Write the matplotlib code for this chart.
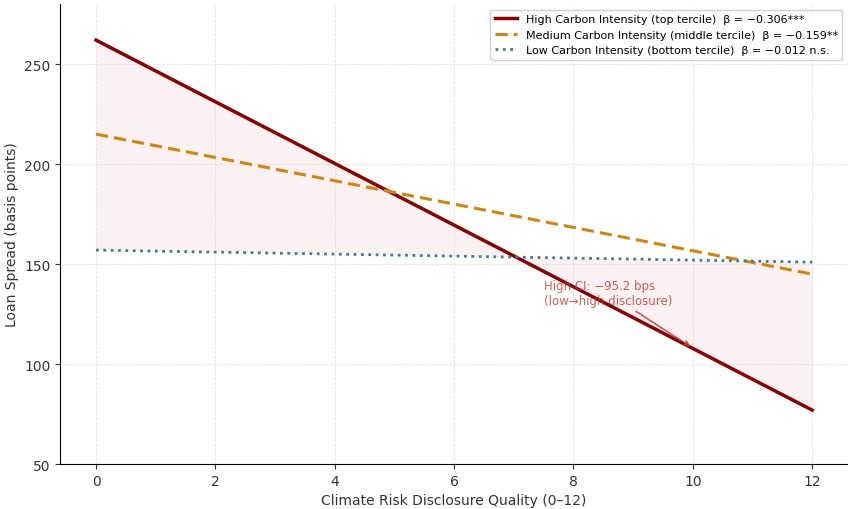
import matplotlib
matplotlib.use("Agg")
import matplotlib.pyplot as plt
import numpy as np

x_vals = [0, 12]
high_vals = [262, 77]
medium_vals = [215, 145]
low_vals = [157, 151]
labels = ["High Carbon Intensity (top tercile)  β = −0.306***",
          "Medium Carbon Intensity (middle tercile)  β = −0.159**",
          "Low Carbon Intensity (bottom tercile)  β = −0.012 n.s."]
xticks = [0, 2, 4, 6, 8, 10, 12]
yticks = [50, 100, 150, 200, 250]

fig = plt.figure(figsize=(8.48, 5.1), dpi=100)
ax = fig.add_axes([0.071, 0.088, 0.929, 0.902])

ax.fill_between(x_vals, high_vals, low_vals, color="#d0405a", alpha=0.08, linewidth=0)
ax.plot(x_vals, high_vals, color="#8B0000", lw=2.5, label=labels[0])
ax.plot(x_vals, medium_vals, color="#D4860B", lw=2.2, ls="--", dashes=(4, 2), label=labels[1])
ax.plot(x_vals, low_vals, color="#3f7f86", lw=2.0, ls=":", label=labels[2])

ax.annotate("High CI: −95.2 bps\n(low→high disclosure)", xy=(10, 108), xytext=(7.5, 130),
            fontsize=8.5, color="#c0392b", alpha=0.8,
            arrowprops=dict(arrowstyle="->", color="#c0392b", lw=1.2, alpha=0.8))

ax.set_xlim(-0.6, 12.6)
ax.set_ylim(50, 280)
ax.set_xticks(xticks)
ax.set_yticks(yticks)
ax.tick_params(labelsize=10, colors="#333333")
ax.set_xlabel("Climate Risk Disclosure Quality (0–12)", fontsize=10, color="#333333")
ax.set_ylabel("Loan Spread (basis points)", fontsize=10, color="#333333")
ax.grid(True, ls="--", color="#dddddd", lw=0.6, alpha=0.8)
ax.spines["top"].set_visible(False)
ax.spines["right"].set_visible(False)
ax.legend(loc="upper right", fontsize=8, frameon=True, framealpha=0.9, edgecolor="#cccccc")

fig.savefig("out.png", dpi=100)
